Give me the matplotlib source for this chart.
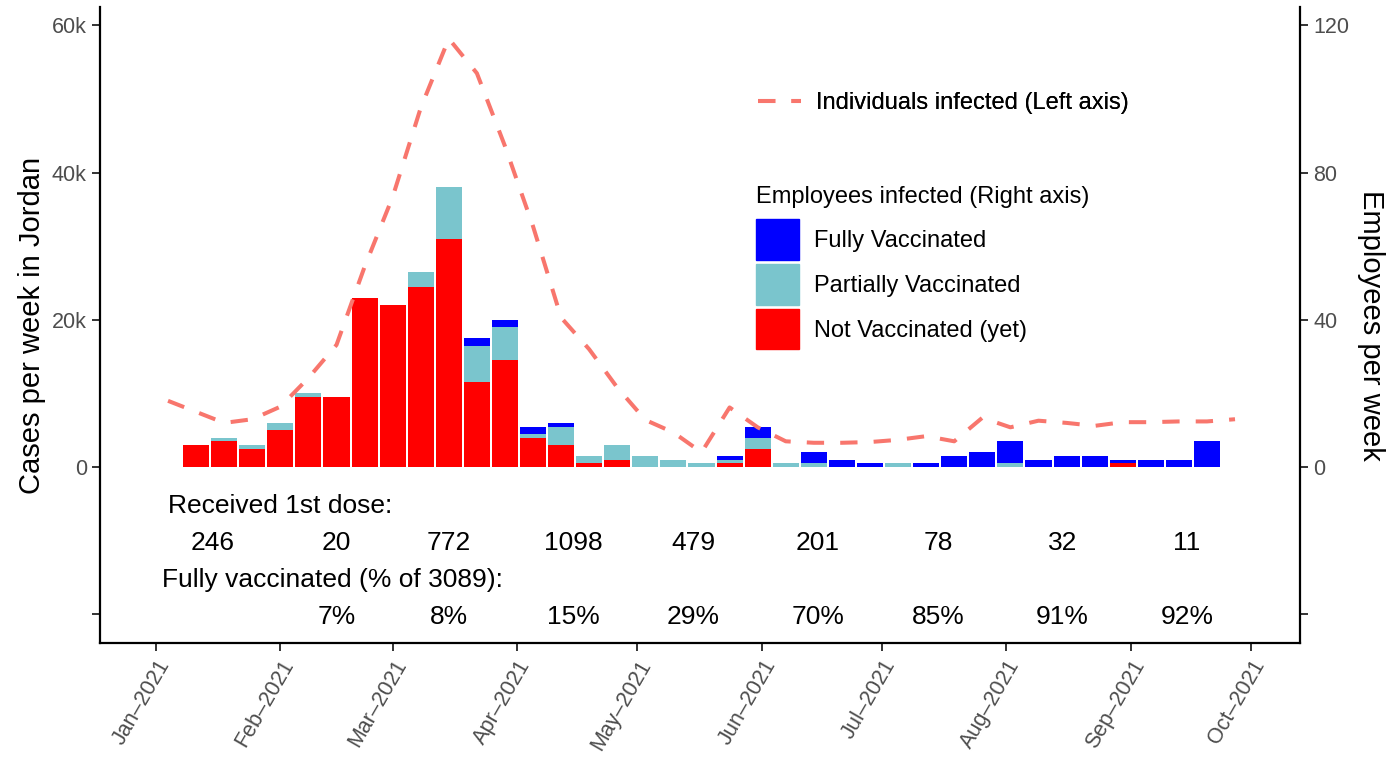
import numpy as np
import pandas as pd
import matplotlib
matplotlib.use("Agg")
import matplotlib.pyplot as plt
import matplotlib.dates as mdates
from matplotlib.lines import Line2D
from matplotlib.patches import Patch

plt.rcParams['font.family'] = ['Liberation Sans', 'DejaVu Sans']

# weekly employee infections (right axis), weeks starting Mon 2021-01-11
week_start = "2021-01-11"
not_vacc = [6, 7, 5, 10, 19, 19, 46, 44, 49, 62, 23, 29, 8, 6, 1, 2, 0, 0, 0,
            1, 5, 0, 0, 0, 0, 0, 0, 0, 0, 0, 0, 0, 0, 1, 0, 0, 0]
partial = [0, 1, 1, 2, 1, 0, 0, 0, 4, 14, 10, 9, 1, 5, 2, 4, 3, 2, 1,
           1, 3, 1, 1, 0, 0, 1, 0, 0, 0, 1, 0, 0, 0, 0, 0, 0, 0]
fully = [0, 0, 0, 0, 0, 0, 0, 0, 0, 0, 2, 2, 2, 1, 0, 0, 0, 0, 0,
         1, 3, 0, 3, 2, 1, 0, 1, 3, 4, 6, 2, 3, 3, 1, 2, 2, 7]

# weekly cases in Jordan (left axis), from Mon 2021-01-04
line_start = "2021-01-04"
cases = [9000, 7500, 6000, 6500, 8200, 12100, 16600, 27200, 36700, 48800,
         58200, 53500, 43600, 32700, 20300, 16000, 10800, 6400, 4700, 2000,
         8100, 5400, 3500, 3300, 3300, 3400, 3700, 4200, 3500, 6700,
         5400, 6300, 6000, 5600, 6100, 6100, 6200, 6200, 6500]

# vaccination annotations (mid-month)
dose_months = ["2021-01-15", "2021-02-15", "2021-03-15", "2021-04-15", "2021-05-15",
               "2021-06-15", "2021-07-15", "2021-08-15", "2021-09-15"]
first_dose = [246, 20, 772, 1098, 479, 201, 78, 32, 11]
pct_months = dose_months[1:]
pct_full = ["7%", "8%", "15%", "29%", "70%", "85%", "91%", "92%"]

weeks = pd.date_range(week_start, periods=len(not_vacc), freq="7D")
line_dates = pd.date_range(line_start, periods=len(cases), freq="7D")

fig = plt.figure(figsize=(13.87, 7.6), dpi=100)
ax = fig.add_axes([100/1387, 1-643/760, 1200/1387, 636/760])
ax2 = ax.twinx()
ax.set_zorder(ax2.get_zorder() + 1)
ax.patch.set_visible(False)

nv = np.array(not_vacc); pv = np.array(partial); fv = np.array(fully)
ax2.bar(weeks, nv, width=6.5, color="#FF0000", linewidth=0)
ax2.bar(weeks, pv, bottom=nv, width=6.5, color="#7AC5CD", linewidth=0)
ax2.bar(weeks, fv, bottom=nv + pv, width=6.5, color="#0000FF", linewidth=0)

ax.plot(line_dates, cases, color="#F8766D", lw=2.9, linestyle=(0, (4.3, 4.0)),
        dash_capstyle="butt", solid_capstyle="butt")

fs_txt = 19
ax.text(pd.Timestamp("2021-02-01"), -5000, "Received 1st dose:", ha="center", va="center_baseline", fontsize=fs_txt)
for d, n in zip(dose_months, first_dose):
    ax.text(pd.Timestamp(d), -10000, str(n), ha="center", va="center_baseline", fontsize=fs_txt)
ax.text(pd.Timestamp("2021-02-14"), -15000, "Fully vaccinated (% of 3089):", ha="center", va="center_baseline", fontsize=fs_txt)
for d, p in zip(pct_months, pct_full):
    ax.text(pd.Timestamp(d), -20000, p, ha="center", va="center_baseline", fontsize=fs_txt)

jan1 = mdates.date2num(pd.Timestamp("2021-01-01"))
oct1 = mdates.date2num(pd.Timestamp("2021-10-01"))
ax.set_xlim(jan1 - 13.96, oct1 + 12.2)
ax.set_ylim(-23900, 62500)
ax2.set_ylim(-23900 / 500, 62500 / 500)

ax.set_xticks(pd.date_range("2021-01-01", "2021-10-01", freq="MS"))
ax.xaxis.set_major_formatter(mdates.DateFormatter("%b\u2013%Y"))
plt.setp(ax.get_xticklabels(), rotation=60, ha="right", va="top", rotation_mode="anchor")

ax.set_yticks([-20000, 0, 20000, 40000, 60000])
ax.set_yticklabels(["", "0", "20k", "40k", "60k"])
ax2.set_yticks([-40, 0, 40, 80, 120])
ax2.set_yticklabels(["", "0", "40", "80", "120"])

for a in (ax, ax2):
    a.tick_params(length=5.5, width=1.4, color="#333333", labelcolor="#4D4D4D",
                  labelsize=15.5, pad=4)
    for s in a.spines.values():
        s.set_linewidth(1.6)
ax.spines["top"].set_visible(False)
ax.spines["right"].set_visible(False)
ax2.spines["top"].set_visible(False)
ax2.spines["left"].set_visible(False)
ax2.spines["bottom"].set_visible(False)

ax.set_ylabel("Cases per week in Jordan", fontsize=21, labelpad=4)
ax2.set_ylabel("Employees per week", fontsize=21, rotation=-90, va="bottom", labelpad=5.5)

leg1 = fig.legend(handles=[Line2D([], [], color="#F8766D", lw=2.9, linestyle=(0, (4.3, 4.0)))],
                  labels=["Individuals infected (Left axis)"], loc="upper left",
                  bbox_to_anchor=(758/1387, 1-92/760), frameon=False, fontsize=17,
                  handlelength=1.82, handletextpad=0.62, borderpad=0, borderaxespad=0)
handles = [Patch(color="#0000FF"), Patch(color="#7AC5CD"), Patch(color="#FF0000")]
leg2 = fig.legend(handles=handles, labels=["Fully Vaccinated", "Partially Vaccinated", "Not Vaccinated (yet)"],
                  title="Employees infected (Right axis)", title_fontsize=17, alignment="left",
                  loc="upper left", bbox_to_anchor=(756/1387, 1-186/760), frameon=False, fontsize=17,
                  handlelength=1.82, handleheight=2.27, labelspacing=0.18, handletextpad=0.62,
                  borderpad=0, borderaxespad=0)
leg2._legend_box.sep = 8
fig.add_artist(leg1)

fig.savefig("out.png", dpi=100)
